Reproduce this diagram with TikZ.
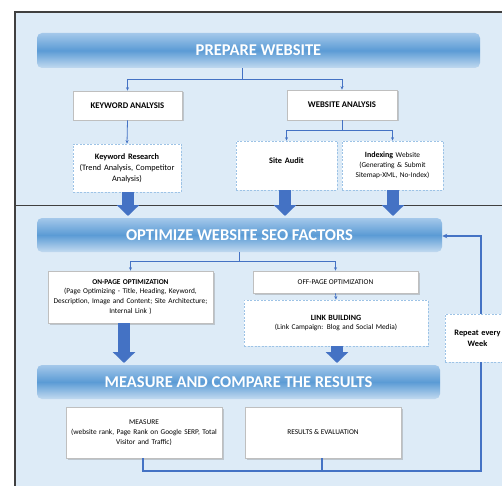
\documentclass[tikz,border=0pt]{standalone}
\usepackage{fontspec}
\setmainfont{Carlito}
\usetikzlibrary{arrows.meta,shadows,calc}
\definecolor{bgblue}{HTML}{DDEBF7}
\definecolor{lnblue}{HTML}{4472C4}
\definecolor{dashblue}{HTML}{9DC3E6}
\definecolor{bantop}{HTML}{A4C8EA}
\definecolor{banmid}{HTML}{5B9BD5}
\definecolor{banbot}{HTML}{C2DAF0}
\definecolor{framegray}{HTML}{404040}
\tikzset{
  banner/.style={rounded corners=5pt, top color=bantop, bottom color=banbot, middle color=banmid, text=white, font=\bfseries\fontsize{16.5}{18}\selectfont, inner sep=0pt},
  solidbox/.style={draw=black!25, fill=white, line width=0.6pt, drop shadow={opacity=0.35, shadow xshift=1.5pt, shadow yshift=-1.5pt}, align=center, inner sep=1pt},
  dashbox/.style={draw=dashblue, dashed, dash pattern=on 2pt off 1.5pt, fill=white, line width=0.7pt, align=center, inner sep=1pt},
  conn/.style={draw=lnblue, line width=0.8pt},
  connarr/.style={conn, -{Stealth[length=3.5pt,width=3pt]}},
  loopline/.style={draw=lnblue, line width=1.5pt},
  bigarr/.style={draw=lnblue, line width=12pt, -{Triangle[width=22pt,length=11pt]}},
  tx/.style={font=\fontsize{8.3}{10.8}\selectfont},
  txk/.style={font=\bfseries\fontsize{8.7}{10}\selectfont},
  txs/.style={font=\fontsize{7.35}{9.9}\selectfont},
}
\begin{document}
\begin{tikzpicture}[x=1pt,y=-1pt]
\useasboundingbox (0,0) rectangle (502,486);
\fill[white] (0,0) rectangle (502,486);
\fill[bgblue] (15,12) rectangle (502,486);
\draw[framegray, line width=1.3pt] (502,12) -- (15,12) -- (15,486);
\draw[framegray, line width=1pt] (15,205) -- (502,205);

% banners
\node[banner, minimum width=443pt, minimum height=35pt] (prep) at (258.5,50.5) {PREPARE WEBSITE};
\node[banner, minimum width=405pt, minimum height=34pt] (opt) at (239.5,235) {OPTIMIZE WEBSITE SEO FACTORS};
\node[banner, minimum width=403pt, minimum height=34pt] (meas) at (238.5,382) {MEASURE AND COMPARE THE RESULTS};

% section 1
\node[solidbox, txk, minimum width=109pt, minimum height=29pt] (ka) at (127.5,105.5) {KEYWORD ANALYSIS};
\node[solidbox, txk, minimum width=110pt, minimum height=30pt] (wa) at (342,105) {WEBSITE ANALYSIS};
\node[dashbox, tx, minimum width=108pt, minimum height=48pt, text width=106pt] (kr) at (127,168) {{\bfseries Keyword Research}\\(Trend Analysis, Competitor\\Analysis)};
\node[dashbox, tx, minimum width=101pt, minimum height=49pt, text width=97pt] (sa) at (286.5,165.5) {{\bfseries Site Audit}\\\mbox{}};
\node[dashbox, txs, minimum width=101pt, minimum height=49pt, text width=99pt] (ix) at (392.5,165.5) {{\bfseries\fontsize{8}{9}\selectfont Indexing} Website\\(Generating \& Submit\\Sitemap-XML, No-Index)};

% section 2
\node[solidbox, txs, minimum width=165pt, minimum height=52pt, text width=163pt] (on) at (130.5,297) {{\bfseries ON-PAGE OPTIMIZATION}\\(Page Optimizing - Title, Heading, Keyword,\\Description, Image and Content; Site Architecture;\\Internal Link )};
\node[solidbox, txs, minimum width=165pt, minimum height=22pt] (off) at (335.5,282) {OFF-PAGE OPTIMIZATION};
\node[dashbox, txs, minimum width=184pt, minimum height=46pt, text width=180pt] (lb) at (336,323) {{\bfseries\fontsize{8}{9}\selectfont LINK BUILDING}\\(Link Campaign: Blog and Social Media)};
\node[dashbox, tx, minimum width=65pt, minimum height=48pt, text width=63pt] (rw) at (477.5,338) {{\bfseries Repeat every\\Week}};

% section 3
\node[solidbox, txs, minimum width=156pt, minimum height=51pt, text width=154pt] (me) at (144,432.5) {MEASURE\\(website rank, Page Rank on Google SERP, Total\\Visitor and Traffic)};
\node[solidbox, txs, minimum width=156pt, minimum height=51pt] (re) at (323,432.5) {RESULTS \& EVALUATION};

% connectors section 1
\coordinate (j1) at (242,79);
\draw[conn] (prep.south -| j1) -- (j1);
\draw[connarr] (j1) -| (ka.north);
\draw[connarr] (j1) -| (wa.north);
\draw[connarr] (ka.south) -- (kr.north);
\coordinate (j2) at (342,130);
\draw[conn] (wa.south) -- (j2);
\draw[connarr] (j2) -| (sa.north);
\draw[connarr] (j2) -| (ix.north);

% big arrows
\coordinate (t1) at (128,216);
\coordinate (t2) at (285,216);
\coordinate (t3) at (393,216);
\draw[bigarr] (kr.south -| t1) -- (t1);
\draw[bigarr] (sa.south -| t2) -- (t2);
\draw[bigarr] (ix.south -| t3) -- (t3);

% connectors section 2
\coordinate (j3) at (239,261);
\draw[conn] (opt.south -| j3) -- (j3);
\draw[connarr] (j3) -| (on.north);
\draw[connarr] (j3) -| (off.north);
\draw[connarr] (off.south) -- (lb.north);
\coordinate (t4) at (124,363);
\coordinate (t5) at (337,363);
\draw[bigarr] (on.south -| t4) -- (t4);
\draw[bigarr] (lb.south -| t5) -- (t5);

% loop
\coordinate (lx) at (481,236);
\draw[loopline, -{Stealth[length=5pt,width=4.5pt]}] (rw.north -| lx) -- (lx) -- (opt.east |- lx);
\coordinate (b1) at (143,471);
\coordinate (b2) at (322,471);
\draw[loopline] (me.south -| b1) -- (b1) -- (b1 -| lx) -- (rw.south -| lx);
\draw[loopline] (re.south -| b2) -- (b2);
\end{tikzpicture}
\end{document}
